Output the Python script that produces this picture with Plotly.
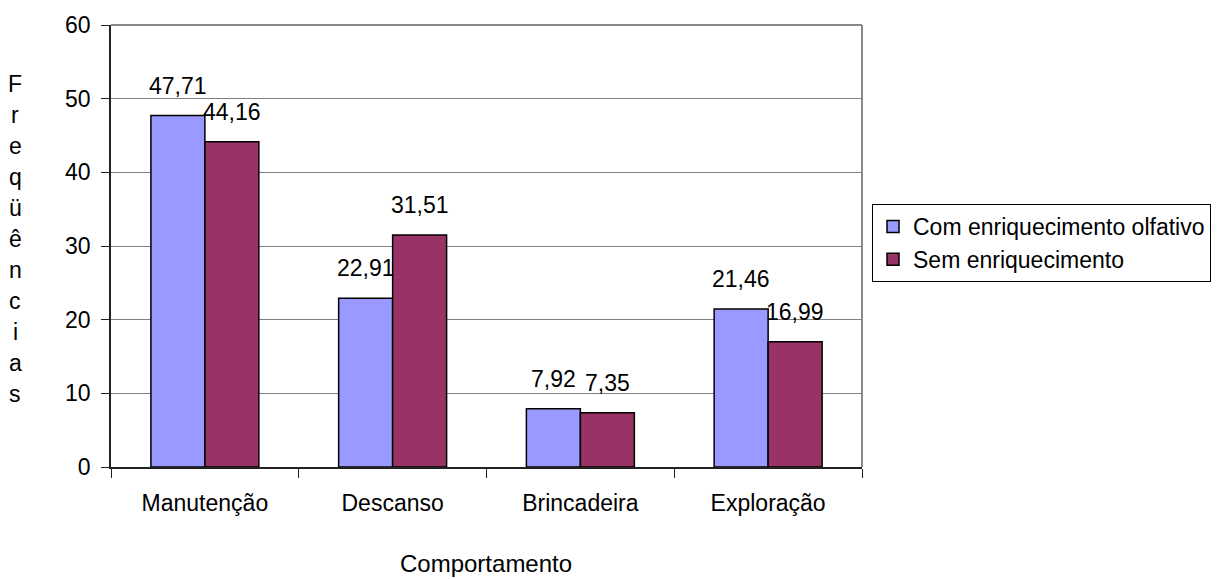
import plotly.graph_objects as go

categories = ["Manutenção", "Descanso", "Brincadeira", "Exploração"]
com_enriq = [47.71, 22.91, 7.92, 21.46]
sem_enriq = [44.16, 31.51, 7.35, 16.99]
series_names = ["Com enriquecimento olfativo", "Sem enriquecimento"]
y_title = "Freqüências"
x_title = "Comportamento"

W, H = 1231, 579
ML, MR, MT, MB = 111, 369, 20, 112
BARGAP = 0.425
FONT = "Liberation Sans, Arial, sans-serif"
FS = 23
plot_w = W - ML - MR
plot_h = H - MT - MB

fig = go.Figure()
fig.add_trace(go.Bar(x=categories, y=com_enriq, name=series_names[0],
                     marker=dict(color="#9999FF", line=dict(color="black", width=1.5))))
fig.add_trace(go.Bar(x=categories, y=sem_enriq, name=series_names[1],
                     marker=dict(color="#993366", line=dict(color="black", width=1.5))))

def fmt(v):
    return f"{v:.2f}".replace(".", ",")

bar_px = (1 - BARGAP) * plot_w / len(categories) / 2
annos = []
for vals, sh in ((com_enriq, -bar_px / 2), (sem_enriq, bar_px / 2)):
    for c, v in zip(categories, vals):
        annos.append(dict(x=c, y=v, xref="x", yref="y", text=fmt(v), showarrow=False,
                          xanchor="center", yanchor="bottom", xshift=sh, yshift=15,
                          font=dict(family=FONT, size=FS, color="black")))

# vertical stacked y-axis title
n = len(y_title)
top_c, bot_c = 80, 393
for i, ch in enumerate(y_title):
    yc = top_c + i * (bot_c - top_c) / (n - 1)
    annos.append(dict(x=0, y=(H - MB - yc) / plot_h, xref="paper", yref="paper",
                      text=ch, showarrow=False, xanchor="center", yanchor="middle",
                      xshift=15 - ML, font=dict(family=FONT, size=FS, color="black")))

annos.append(dict(x=0.5, y=0, xref="paper", yref="paper", text=x_title, showarrow=False,
                  xanchor="center", yanchor="middle", xshift=486 - (ML + plot_w / 2),
                  yshift=-(563 - (H - MB)), font=dict(family=FONT, size=24, color="black")))

fig.update_layout(
    width=W, height=H,
    margin=dict(l=ML, r=MR, t=MT, b=MB),
    paper_bgcolor="white", plot_bgcolor="white",
    barmode="group", bargap=BARGAP, bargroupgap=0,
    font=dict(family=FONT, size=FS, color="black"),
    showlegend=True,
    legend=dict(x=(872 - ML) / plot_w, y=(H - MB - 201) / plot_h, xanchor="left", yanchor="top",
                bordercolor="black", borderwidth=1, bgcolor="white",
                font=dict(family=FONT, size=FS, color="black"), itemwidth=30,
                tracegroupgap=0),
    annotations=annos,
    shapes=[
        dict(type="line", xref="paper", yref="paper", x0=1, x1=1, y0=0, y1=1,
             line=dict(color="#888888", width=2)),
        dict(type="line", xref="paper", yref="paper", x0=0, x1=1, y0=1, y1=1,
             line=dict(color="#888888", width=2)),
    ],
)
fig.update_yaxes(range=[0, 60], dtick=10, tick0=0, showgrid=True, gridcolor="#808080", gridwidth=1,
                 showline=True, linecolor="#222222", linewidth=1.5, ticks="outside", ticklen=8,
                 tickcolor="#222222", zeroline=False, tickfont=dict(family=FONT, size=FS),
                 ticklabelstandoff=6)
fig.update_xaxes(showline=True, linecolor="#222222", linewidth=2, ticks="outside", ticklen=9,
                 tickson="boundaries", tickcolor="#222222", ticklabelstandoff=14,
                 tickfont=dict(family=FONT, size=FS))

fig.write_html("out.html", config={"displayModeBar": False},
               post_script="document.body.style.margin='0';document.body.style.padding='0';")
